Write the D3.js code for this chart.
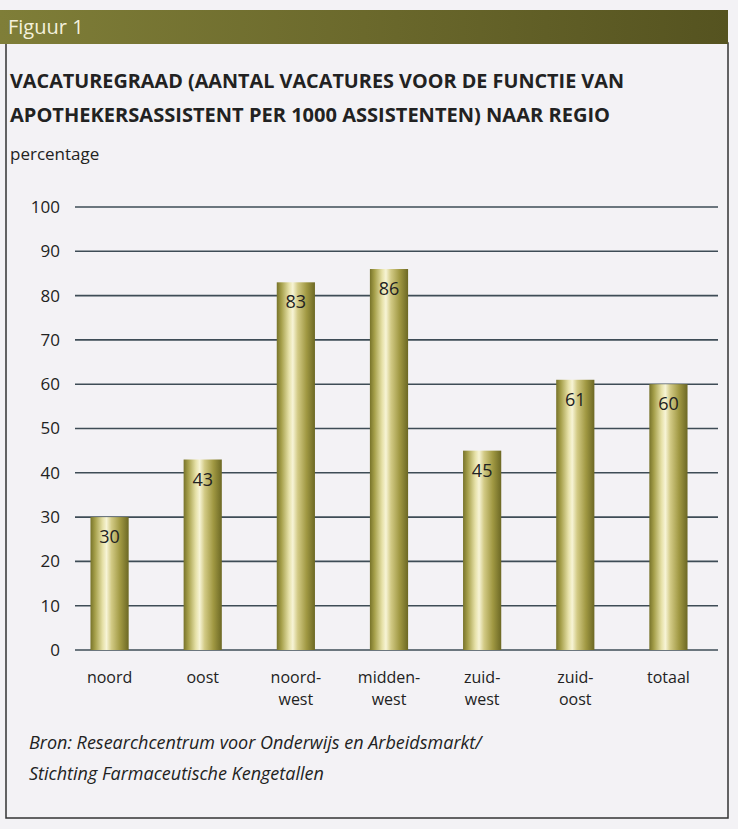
<!DOCTYPE html>
<html>
<head>
<meta charset="utf-8">
<script src="https://cdn.jsdelivr.net/npm/d3@7"></script>
<style>
  body { margin: 0; background: #f3f2f5; }
  svg { display: block; }
</style>
</head>
<body>
<script>
// chart data
const regions = ["noord", "oost", "noord-west", "midden-west", "zuid-west", "zuid-oost", "totaal"];
const labelLines = [["noord"], ["oost"], ["noord-", "west"], ["midden-", "west"], ["zuid-", "west"], ["zuid-", "oost"], ["totaal"]];
const values = [30, 43, 83, 86, 45, 61, 60];
const yTicks = [0, 10, 20, 30, 40, 50, 60, 70, 80, 90, 100];

const titleLines = [
  "VACATUREGRAAD (AANTAL VACATURES VOOR DE FUNCTIE VAN",
  "APOTHEKERSASSISTENT PER 1000 ASSISTENTEN) NAAR REGIO"
];
const sourceLines = [
  "Bron: Researchcentrum voor Onderwijs en Arbeidsmarkt/",
  "Stichting Farmaceutische Kengetallen"
];

const W = 738, H = 829;
const font = "'Open Sans', 'DejaVu Sans', sans-serif";

const svg = d3.select("body").append("svg")
    .attr("width", W)
    .attr("height", H);

const defs = svg.append("defs");

// header bar gradient
const hg = defs.append("linearGradient").attr("id", "hdr");
hg.append("stop").attr("offset", "0%").attr("stop-color", "#7f7e38");
hg.append("stop").attr("offset", "50%").attr("stop-color", "#6b692c");
hg.append("stop").attr("offset", "100%").attr("stop-color", "#555320");

// cylinder look for the bars
const bg = defs.append("linearGradient").attr("id", "cyl");
[["0%", "#77732a"], ["12%", "#a59f4a"], ["32%", "#e6e1a8"], ["42%", "#f7f4d6"],
 ["55%", "#d2ca85"], ["78%", "#a09842"], ["100%", "#6c6824"]]
  .forEach(s => bg.append("stop").attr("offset", s[0]).attr("stop-color", s[1]));

// page frame
svg.append("rect")
    .attr("x", 0).attr("y", 0).attr("width", W).attr("height", H)
    .attr("fill", "#f3f2f5");

svg.append("rect")
    .attr("x", 6).attr("y", 43).attr("width", 722).attr("height", 775)
    .attr("fill", "none")
    .attr("stroke", "#333")
    .attr("stroke-width", 1.5);

svg.append("rect")
    .attr("x", 0).attr("y", 10).attr("width", 728).attr("height", 34)
    .attr("fill", "url(#hdr)");

svg.append("text")
    .attr("x", 8).attr("y", 34)
    .attr("fill", "#f4f1dc")
    .style("font-family", font)
    .style("font-size", "20px")
    .text("Figuur 1");

// title
svg.selectAll(".title")
    .data(titleLines)
  .enter().append("text")
    .attr("class", "title")
    .attr("x", 10)
    .attr("y", (d, i) => 88 + i * 34)
    .attr("fill", "#222")
    .attr("textLength", (d, i) => i === 0 ? 614 : 600)
    .attr("lengthAdjust", "spacingAndGlyphs")
    .style("font-family", font)
    .style("font-weight", 700)
    .style("font-size", "19px")
    .text(d => d);

svg.append("text")
    .attr("x", 10).attr("y", 160)
    .attr("fill", "#222")
    .style("font-family", font)
    .style("font-size", "17px")
    .text("percentage");

// scales
const x = d3.scaleBand()
    .domain(regions)
    .range([63, 715])
    .paddingInner(0.59)
    .paddingOuter(0.295);

const y = d3.scaleLinear()
    .domain([0, 100])
    .range([650, 207]);

const g = svg.append("g");

// gridlines
g.selectAll(".grid")
    .data(yTicks)
  .enter().append("line")
    .attr("class", "grid")
    .attr("x1", 75).attr("x2", 718)
    .attr("y1", d => y(d)).attr("y2", d => y(d))
    .attr("stroke", "#3e4c56")
    .attr("stroke-width", 1.6);

// y axis labels
g.selectAll(".ytick")
    .data(yTicks)
  .enter().append("text")
    .attr("class", "ytick")
    .attr("x", 60)
    .attr("y", d => y(d))
    .attr("dy", "0.35em")
    .attr("text-anchor", "end")
    .attr("fill", "#222")
    .style("font-family", font)
    .style("font-size", "17px")
    .text(d => d);

// bars
g.selectAll(".bar")
    .data(values)
  .enter().append("rect")
    .attr("class", "bar")
    .attr("x", (d, i) => x(regions[i]))
    .attr("y", d => y(d))
    .attr("width", x.bandwidth())
    .attr("height", d => y(0) - y(d))
    .attr("fill", "url(#cyl)");

// value labels
g.selectAll(".val")
    .data(values)
  .enter().append("text")
    .attr("class", "val")
    .attr("x", (d, i) => x(regions[i]) + x.bandwidth() / 2)
    .attr("y", d => y(d) + 26)
    .attr("text-anchor", "middle")
    .attr("fill", "#222")
    .style("font-family", font)
    .style("font-size", "18px")
    .text(d => d);

// x labels, one text per line
const xlData = [];
labelLines.forEach((lines, i) => lines.forEach((t, j) => xlData.push({ t, i, j })));

g.selectAll(".xlab")
    .data(xlData)
  .enter().append("text")
    .attr("class", "xlab")
    .attr("x", d => x(regions[d.i]) + x.bandwidth() / 2)
    .attr("y", d => 683 + d.j * 22)
    .attr("text-anchor", "middle")
    .attr("fill", "#222")
    .style("font-family", font)
    .style("font-size", "16px")
    .text(d => d.t);

// source
svg.selectAll(".src")
    .data(sourceLines)
  .enter().append("text")
    .attr("class", "src")
    .attr("x", 29)
    .attr("y", (d, i) => 749 + i * 31)
    .attr("fill", "#222")
    .style("font-family", font)
    .style("font-style", "italic")
    .style("font-size", "18px")
    .text(d => d);
</script>
</body>
</html>
